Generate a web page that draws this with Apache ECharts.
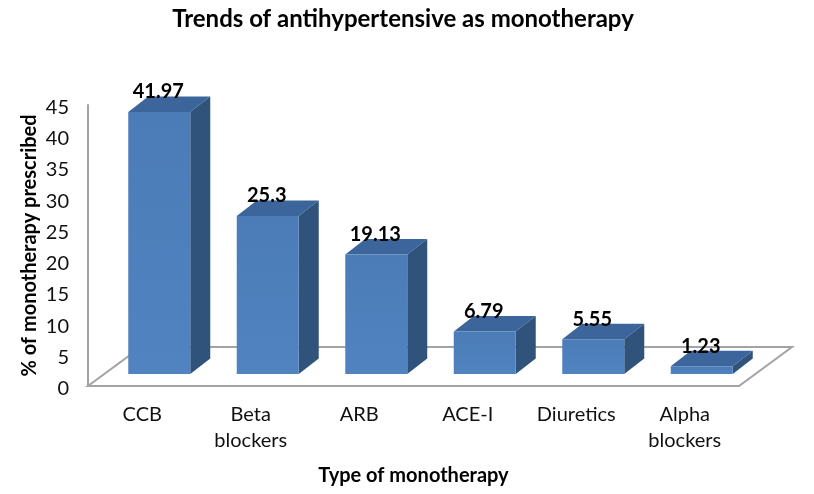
<!DOCTYPE html>
<html><head><meta charset="utf-8">
<style>html,body{margin:0;padding:0;background:#fff}#c{width:814px;height:494px}</style>
<script src="https://cdn.jsdelivr.net/npm/echarts@6/dist/echarts.min.js"></script>
</head><body><div id="c"></div>
<script>
const categories = ['CCB','Beta\nblockers','ARB','ACE-I','Diuretics','Alpha\nblockers'];
const values = [41.97,25.3,19.13,6.79,5.55,1.23];
const labels = ['41.97','25.3','19.13','6.79','5.55','1.23'];
const yTicks = {min:0,max:45,interval:5};
const FONT = 'Lato, "Open Sans", sans-serif';
const chart = echarts.init(document.getElementById('c'),null,{renderer:'canvas'});
const D = {dx:20,dy:15.5,lift:12,shift:17,half:31};
function renderFloor(params,api){
  const cs = params.coordSys;
  const x0=cs.x, x1=cs.x+cs.width, y=cs.y+cs.height;
  return {type:'polygon',shape:{points:[[x0,y],[x1,y],[x1+53,y-39],[x0+53,y-39]]},
    style:{fill:'#fff',stroke:'#a3a3a3',lineWidth:2},silent:true};
}
function renderBar(params,api){
  const cat=api.value(0), v=api.value(1);
  const base=api.coord([cat,0]), top=api.coord([cat,v]);
  const l=base[0]+D.shift-D.half, r=base[0]+D.shift+D.half;
  const b=base[1]-D.lift, t=top[1]-D.lift;
  return {type:'group',children:[
    {type:'polygon',shape:{points:[[l,t],[r,t],[r+D.dx,t-D.dy],[l+D.dx,t-D.dy]]},style:{fill:'#3c669b'}},
    {type:'polygon',shape:{points:[[r,t],[r+D.dx,t-D.dy],[r+D.dx,b-D.dy],[r,b]]},style:{fill:'#30537c'}},
    {type:'rect',shape:{x:l,y:t,width:r-l,height:b-t},style:{fill:new echarts.graphic.LinearGradient(0,0,0,1,[{offset:0,color:'#4b7cb8'},{offset:1,color:'#5083c0'}])}},
    {type:'text',style:{text:labels[params.dataIndex],x:(l+r)/2-1,y:t-20,align:'center',verticalAlign:'middle',font:'bold 20px '+FONT,fill:'#000'},z2:10}
  ]};
}
chart.setOption({
  animation:false,
  backgroundColor:'#fff',
  title:{text:'Trends of antihypertensive as monotherapy',left:398,top:2,textAlign:'center',
    textStyle:{fontFamily:FONT,fontWeight:'bold',fontSize:24,color:'#000'}},
  grid:{left:88,top:105,width:651,height:281,containLabel:false},
  xAxis:{type:'category',data:categories,name:'Type of monotherapy',nameLocation:'middle',nameGap:80,
    nameTextStyle:{fontFamily:FONT,fontWeight:'bold',fontSize:20,color:'#000'},
    axisLine:{lineStyle:{color:'#a3a3a3',width:2}},axisTick:{show:false},
    axisLabel:{interval:0,margin:16,fontFamily:FONT,fontSize:20,color:'#111',lineHeight:26}},
  yAxis:{type:'value',min:yTicks.min,max:yTicks.max,interval:yTicks.interval,
    name:'% of monotherapy prescribed',nameLocation:'middle',nameGap:48,nameMoveOverlap:false,
    nameTextStyle:{fontFamily:FONT,fontWeight:'bold',fontSize:20,color:'#000'},
    axisLine:{show:true,lineStyle:{color:'#a3a3a3',width:2}},axisTick:{show:false},splitLine:{show:false},
    axisLabel:{margin:19,fontFamily:FONT,fontSize:20,color:'#111',verticalAlign:'top',lineHeight:5}},
  series:[
    {type:'custom',renderItem:renderFloor,data:[[0,0]],clip:false,z:1,silent:true},
    {type:'custom',renderItem:renderBar,clip:false,z:2,encode:{x:0,y:1},
      data:values.map((v,i)=>[i,v])}
  ]
});
</script></body></html>
